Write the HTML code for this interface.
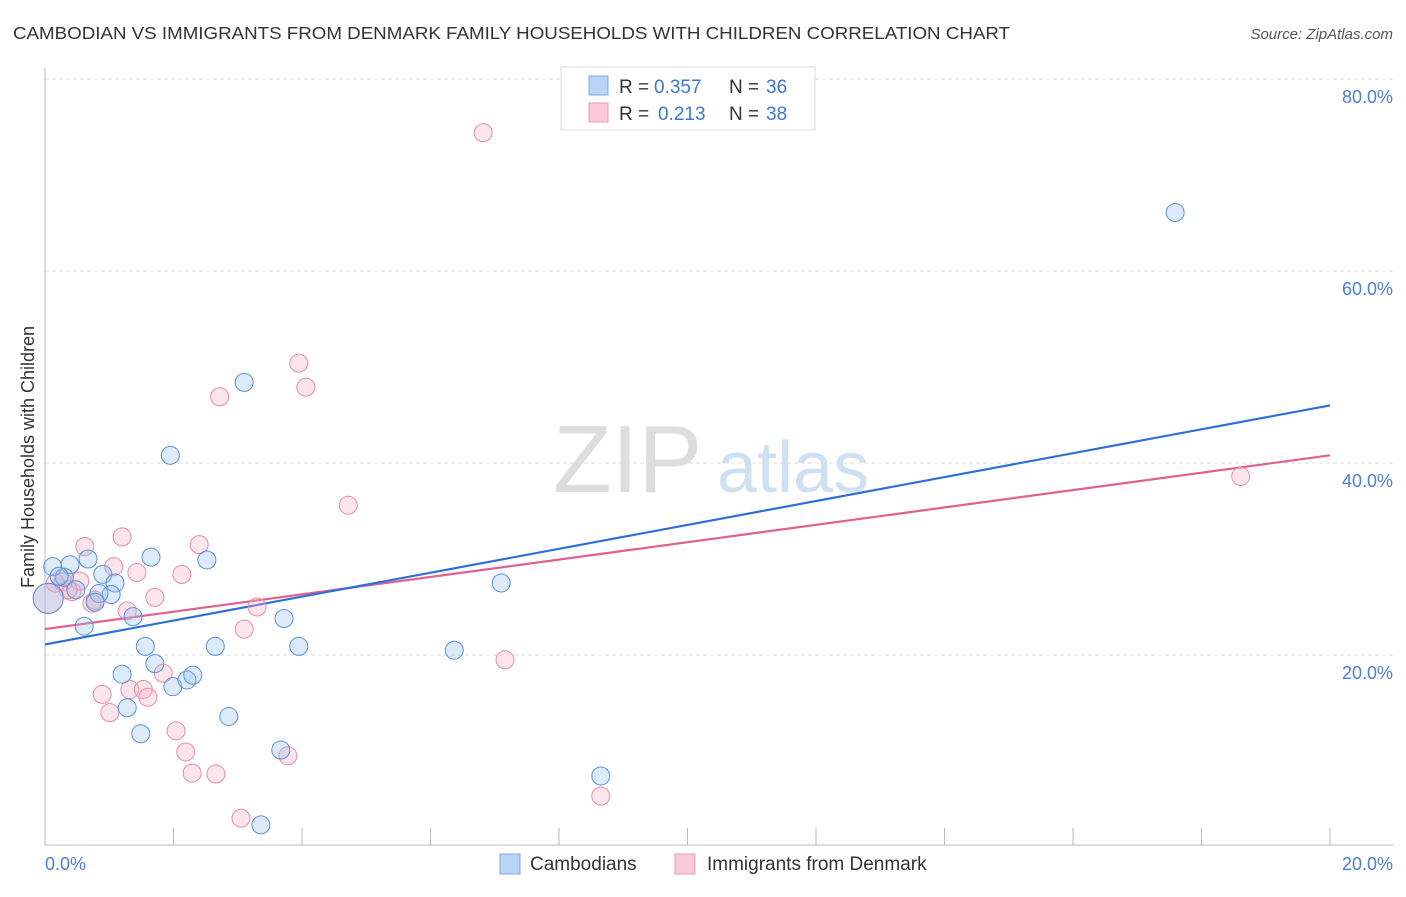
<!DOCTYPE html>
<html><head><meta charset="utf-8"><style>
body{margin:0;background:#fff;font-family:"Liberation Sans",sans-serif;}
svg text{font-family:"Liberation Sans",sans-serif;}
</style></head><body>
<svg id="chart" width="1406" height="892">
<text x="13" y="39" font-size="17.5" fill="#333" textLength="997" lengthAdjust="spacingAndGlyphs">CAMBODIAN VS IMMIGRANTS FROM DENMARK FAMILY HOUSEHOLDS WITH CHILDREN CORRELATION CHART</text>
<text x="1393" y="39" font-size="15" fill="#555" font-style="italic" text-anchor="end">Source: ZipAtlas.com</text>
<g>
<text x="553" y="492" font-size="96" fill="#ddd" font-family="Liberation Serif,serif">ZIP</text>
<text x="717" y="492" font-size="72" fill="#cfe0f3">atlas</text>
</g>
<g id="grid"></g>
<g id="axes"></g>
<g id="lines"></g>
<g id="points"></g>
<text transform="translate(34,457) rotate(-90)" font-size="18" fill="#333" text-anchor="middle">Family Households with Children</text>
<g>
<rect x="561" y="67" width="254" height="63" fill="#fff" stroke="#ddd"/>
<rect x="589" y="76" width="19" height="19" fill="#b8d3f5" stroke="#7fa8e0"/>
<rect x="589" y="103" width="19" height="19" fill="#fbc8d7" stroke="#ef9ab5"/>
<text y="93" font-size="19" fill="#333"><tspan x="619">R =</tspan><tspan x="654" fill="#3a78d4">0.357</tspan><tspan x="729">N =</tspan><tspan x="766" fill="#3a78d4">36</tspan></text>
<text y="120" font-size="19" fill="#333"><tspan x="619">R =</tspan><tspan x="658" fill="#3a78d4">0.213</tspan><tspan x="729">N =</tspan><tspan x="766" fill="#3a78d4">38</tspan></text>
</g>
<g>
<rect x="500" y="854" width="20" height="20" fill="#b8d3f5" stroke="#7fa8e0"/>
<text x="530" y="870" font-size="19" fill="#333">Cambodians</text>
<rect x="675" y="854" width="20" height="20" fill="#fbc8d7" stroke="#ef9ab5"/>
<text x="707" y="870" font-size="19" fill="#333">Immigrants from Denmark</text>
</g>
</svg>
<script>
const yTicks=[20,40,60,80];
const xTickLabels=["0.0%","20.0%"];
const blueX=[0.12,0.39,0.30,0.67,0.22,0.48,0.90,1.09,1.03,0.84,0.78,0.61,1.37,1.65,1.95,2.52,3.10,1.56,1.71,1.20,1.28,1.49,1.99,2.21,2.30,2.65,2.86,3.72,3.95,3.67,3.36,6.37,7.10,8.65,17.59,0.05];
const blueY=[29.2,29.4,28.1,30.0,28.2,26.8,28.4,27.5,26.3,26.4,25.5,23.0,24.0,30.2,40.8,29.9,48.4,20.9,19.1,18.0,14.5,11.8,16.7,17.4,17.9,20.9,13.6,23.8,20.9,10.1,2.3,20.5,27.5,7.4,66.1,25.9];
const pinkX=[0.16,0.28,0.42,0.54,0.62,0.73,1.20,1.07,1.43,1.71,2.13,2.40,1.28,0.89,1.01,1.32,1.53,1.60,1.84,2.04,2.19,2.29,2.66,2.72,3.05,3.10,3.30,3.78,3.95,4.06,4.72,6.82,7.16,8.65,18.61,0.78,0.36,0.05];
const pinkY=[27.5,27.6,26.6,27.7,31.3,25.4,32.3,29.2,28.6,26.0,28.4,31.5,24.6,15.9,14.0,16.4,16.4,15.6,18.1,12.1,9.9,7.7,7.6,46.9,3.0,22.7,25.0,9.5,50.4,47.9,35.6,74.4,19.5,5.3,38.6,25.7,26.8,25.9];
const blueLine=[21.1,46.0];
const pinkLine=[22.7,40.8];
const NS="http://www.w3.org/2000/svg";
const sx=v=>45+v*64.25, sy=v=>847-v*9.6;
function mk(tag,attrs,parent){const e=document.createElementNS(NS,tag);for(const k in attrs)e.setAttribute(k,attrs[k]);document.getElementById(parent).appendChild(e);return e;}
yTicks.forEach(t=>{
 const l=mk('line',{x1:45,x2:1393,y1:sy(t),y2:sy(t),stroke:'#ddd','stroke-dasharray':'4,3'},'grid');
 
 
 const tx=mk('text',{x:1393,y:sy(t)+24,'font-size':18,fill:'#4a7fd4','text-anchor':'end'},'grid');
 tx.textContent=t.toFixed(1)+'%';
 
 
});
let ax=mk('line',{x1:45,x2:1393,y1:845,y2:845,stroke:'#bbb'},'axes');


ax=mk('line',{x1:45,x2:45,y1:68,y2:845,stroke:'#bbb'},'axes');


for(let i=1;i<=10;i++){const t=mk('line',{x1:sx(i*2),x2:sx(i*2),y1:828,y2:845,stroke:'#bbb'},'axes');
 
 }
[[0,'start',45],[20,'end',1393]].forEach((p,i)=>{const t=mk('text',{x:p[2],y:870,'font-size':18,fill:'#4a7fd4','text-anchor':p[1]},'axes');t.textContent=xTickLabels[i];
 
 });
function drawPts(xs,ys,fill,stroke,name){xs.forEach((x,i)=>{const big=(x<0.1);const c=mk('circle',{cx:sx(x),cy:sy(ys[i]),r:big?15:9,fill:fill,stroke:stroke,'stroke-width':1},'points');
 
 });}
drawPts(pinkX,pinkY,'rgba(248,175,198,0.33)','#e98aaa','point-denmark');
drawPts(blueX,blueY,'rgba(150,190,240,0.33)','#5c90da','point-cambodian');
let ln=mk('line',{x1:sx(0),y1:sy(pinkLine[0]),x2:sx(20),y2:sy(pinkLine[1]),stroke:'#e0608f','stroke-width':2.2},'lines');


ln=mk('line',{x1:sx(0),y1:sy(blueLine[0]),x2:sx(20),y2:sy(blueLine[1]),stroke:'#2d6fd6','stroke-width':2.2},'lines');


</script>
</body></html>
